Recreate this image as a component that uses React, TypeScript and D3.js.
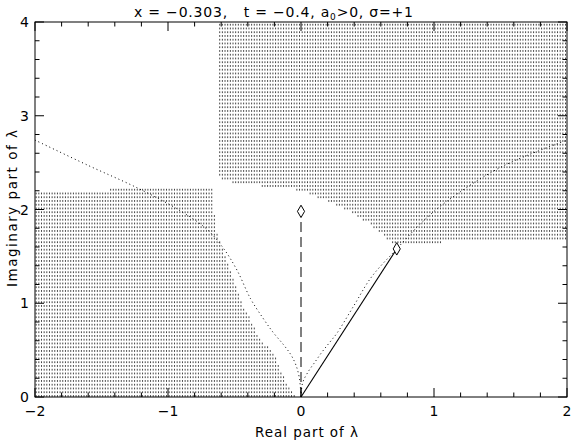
import React from "react";
import * as d3 from "d3";

// Plot frame
const W = 571;
const H = 442;
const M = { left: 35, right: 567, top: 22, bottom: 397 };

const xDomain: [number, number] = [-2, 2];
const yDomain: [number, number] = [0, 4];
const xMajor = [-2, -1, 0, 1, 2];
const yMajor = [0, 1, 2, 3, 4];
const xTickLabels = ["\u22122", "\u22121", "0", "1", "2"];
const yTickLabels = ["0", "1", "2", "3", "4"];

// Dotted branches of the spectrum curve (Re λ, Im λ)
const leftBranch: [number, number][] = [
  [-2, 2.74], [-1.6, 2.47], [-1.23, 2.23], [-0.9, 1.98], [-0.7, 1.78],
  [-0.58, 1.58], [-0.48, 1.35], [-0.38, 1.05], [-0.29, 0.85], [-0.21, 0.69],
  [-0.13, 0.555], [-0.075, 0.448], [-0.038, 0.34], [-0.012, 0.2], [0, 0],
];
const rightBranch: [number, number][] = [
  [0, 0], [0.012, 0.15], [0.053, 0.267], [0.105, 0.373], [0.158, 0.48],
  [0.218, 0.587], [0.27, 0.68], [0.4, 0.98], [0.53, 1.28], [0.72, 1.58],
  [0.9, 1.85], [1.08, 2.07], [1.5, 2.45], [2, 2.74],
];

// Eigenvalues (diamonds) and their connecting segments
const eigenSolid: [number, number][] = [[0, 0], [0.72, 1.58]];
const eigenDashed: [number, number][] = [[0, 0], [0, 1.98]];
const eigenvalues: [number, number][] = [[0, 1.98], [0.72, 1.58]];

// Stippled regions, evaluated on a 0.02 x 0.04 grid
const gridDx = 0.02;
const gridDy = 0.04;
// Lower-left region: right edge as (Im λ, Re λ)
const regionARightEdge: [number, number][] = [
  [0, -0.04], [0.13, -0.1], [0.29, -0.16], [0.45, -0.2], [0.61, -0.31],
  [0.82, -0.38], [1.03, -0.46], [1.35, -0.53], [1.67, -0.62], [1.83, -0.65],
  [2.1, -0.66], [2.24, -0.66],
];
const regionATop = 2.21;
const regionATopRowStart = -1.44;
const regionATopRowMin = 2.18;
// Upper-right region: left edge and lower edge as (Re λ, Im λ)
const regionBLeft = -0.62;
const regionBBase: [number, number][] = [
  [-0.62, 2.34], [-0.58, 2.3], [-0.37, 2.26], [-0.08, 2.22], [0.05, 2.17],
  [0.3, 2.03], [0.5, 1.86], [0.6, 1.74], [0.69, 1.62], [1.04, 1.62],
  [1.05, 1.66], [2, 1.66],
];

function interp(pts: [number, number][], v: number): number {
  if (v <= pts[0][0]) return pts[0][1];
  for (let i = 1; i < pts.length; i++) {
    const [a0, b0] = pts[i - 1];
    const [a1, b1] = pts[i];
    if (v <= a1) return b0 + ((v - a0) / (a1 - a0)) * (b1 - b0);
  }
  return pts[pts.length - 1][1];
}

export default function App() {
  const x = d3.scaleLinear().domain(xDomain).range([M.left, M.right]);
  const y = d3.scaleLinear().domain(yDomain).range([M.bottom, M.top]);

  const line = d3
    .line<[number, number]>()
    .x((d) => x(d[0]))
    .y((d) => y(d[1]));
  const smooth = d3
    .line<[number, number]>()
    .x((d) => x(d[0]))
    .y((d) => y(d[1]))
    .curve(d3.curveCatmullRom.alpha(0.5));

  // Stipple points
  const dots: [number, number][] = [];
  const nx = Math.round((xDomain[1] - xDomain[0]) / gridDx);
  const ny = Math.round((yDomain[1] - yDomain[0]) / gridDy);
  for (let j = 0; j < ny; j++) {
    const yy = yDomain[0] + j * gridDy + 0.01;
    for (let i = 0; i < nx; i++) {
      const xx = xDomain[0] + i * gridDx + 0.005;
      let inA = false;
      if (yy <= regionATop) {
        inA = xx <= interp(regionARightEdge, yy);
        if (yy > regionATopRowMin && xx < regionATopRowStart) inA = false;
      }
      const inB = xx >= regionBLeft && yy >= interp(regionBBase, xx);
      if (inA || inB) dots.push([xx, yy]);
    }
  }

  const xMinor = d3.range(-2, 2.0001, 0.2);
  const yMinor = d3.range(0, 4.0001, 0.2);
  const isMajor = (v: number) => Math.abs(v - Math.round(v)) < 1e-6;

  const font = "'DejaVu Sans', 'Liberation Sans', sans-serif";
  const diamond = d3.symbol(d3.symbolDiamond, 44)();

  return (
    <svg width={W} height={H} style={{ display: "block", position: "absolute", left: 0, top: 0 }}>
      <rect width={W} height={H} fill="#fff" />
      <g>
        {dots.map((d, k) => (
          <rect key={k} x={x(d[0])} y={y(d[1]) - 1} width={1} height={1.8} fill="#444" />
        ))}
      </g>

      <path d={smooth(leftBranch) || ""} fill="none" stroke="#000" strokeWidth={1} strokeDasharray="1,3" />
      <path d={smooth(rightBranch) || ""} fill="none" stroke="#000" strokeWidth={1} strokeDasharray="1,3" />
      <path d={line(eigenDashed) || ""} fill="none" stroke="#000" strokeWidth={1} strokeDasharray="10,5" />
      <path d={line(eigenSolid) || ""} fill="none" stroke="#000" strokeWidth={1.1} />
      {eigenvalues.map((d, k) => (
        <path key={k} d={diamond || ""} transform={`translate(${x(d[0])},${y(d[1])})`} fill="#fff" stroke="#000" strokeWidth={1} />
      ))}

      {/* frame */}
      <rect x={M.left} y={M.top} width={M.right - M.left} height={M.bottom - M.top} fill="none" stroke="#000" strokeWidth={1} />
      {xMinor.map((v, k) => {
        const len = isMajor(v) ? 9 : 4.5;
        const px = x(v);
        return (
          <g key={"xt" + k}>
            <line x1={px} x2={px} y1={M.bottom} y2={M.bottom - len} stroke="#000" />
            <line x1={px} x2={px} y1={M.top} y2={M.top + len} stroke="#000" />
          </g>
        );
      })}
      {yMinor.map((v, k) => {
        const len = isMajor(v) ? 9 : 4.5;
        const py = y(v);
        return (
          <g key={"yt" + k}>
            <line x1={M.left} x2={M.left + len} y1={py} y2={py} stroke="#000" />
            <line x1={M.right} x2={M.right - len} y1={py} y2={py} stroke="#000" />
          </g>
        );
      })}

      {xMajor.map((v, k) => (
        <text key={"xl" + k} x={x(v)} y={416} textAnchor="middle" fontFamily={font} fontSize={14}>
          {xTickLabels[k]}
        </text>
      ))}
      {yMajor.map((v, k) => (
        <text key={"yl" + k} x={29} y={y(v) + 5} textAnchor="end" fontFamily={font} fontSize={14}>
          {yTickLabels[k]}
        </text>
      ))}

      <text x={255} y={437} fontFamily={font} fontSize={13.5} textLength={103} lengthAdjust="spacing">
        Real part of λ
      </text>
      <text
        transform={`translate(17,287) rotate(-90)`}
        fontFamily={font}
        fontSize={13.5}
        textLength={157}
        lengthAdjust="spacing"
      >
        Imaginary part of λ
      </text>

      <text x={134} y={17} fontFamily={font} fontSize={14} textLength={279} lengthAdjust="spacing" style={{ whiteSpace: "pre" }}>
        {"x = \u22120.303,   t = \u22120.4, a"}
        <tspan fontSize={9} dy={3}>0</tspan>
        <tspan dy={-3}>{">0, σ=+1"}</tspan>
      </text>
    </svg>
  );
}
